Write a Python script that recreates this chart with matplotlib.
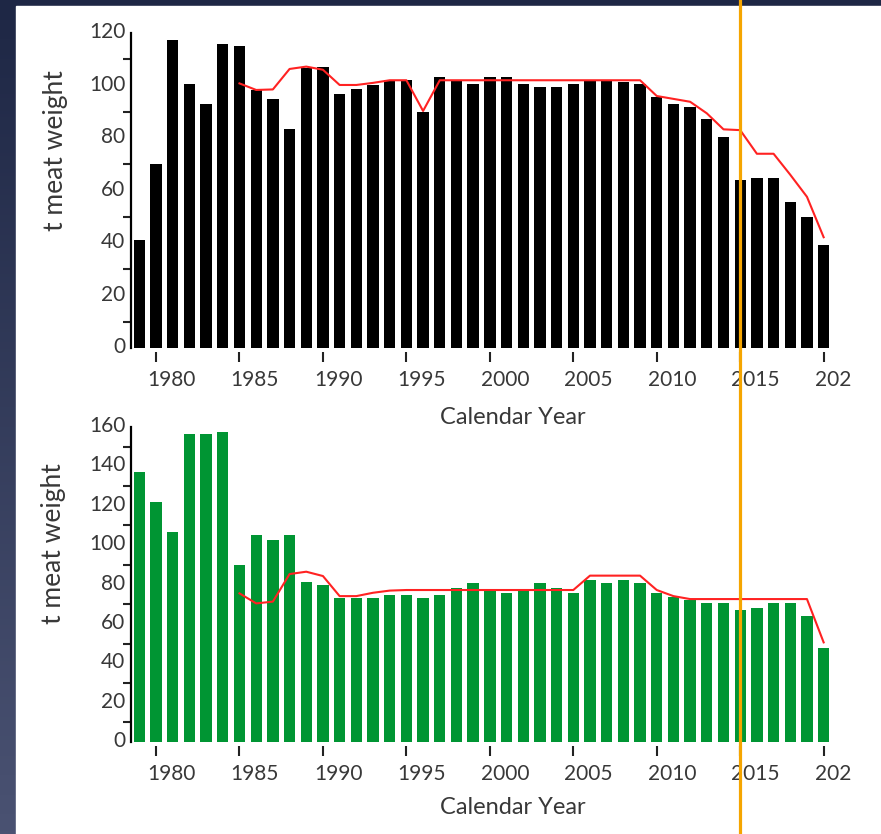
import numpy as np
import matplotlib
matplotlib.use("Agg")
import matplotlib.pyplot as plt
from matplotlib import transforms
from matplotlib.lines import Line2D
from matplotlib.patches import Rectangle

plt.rcParams["font.family"] = ["Lato", "DejaVu Sans"]

# 年份与两组渔获量 (t meat weight)
years = np.arange(1979, 2021)

catch_top = [41, 70, 117.5, 100.5, 93, 116, 115, 98.3, 95, 83.3,
             106.5, 107, 96.6, 98.7, 100.2, 102, 102, 90, 103.4, 102,
             100.6, 103.4, 103.4, 100.6, 99.6, 99.6, 100.6, 102, 102, 101.4,
             100.6, 95.7, 93, 92, 87.2, 80.5, 64, 64.9, 64.9, 55.5,
             49.8, 39.2]

catch_bottom = [137.3, 121.7, 106.5, 156.4, 156.4, 157.6, 89.9, 105.1, 102.6, 105.1,
                81.1, 79.7, 73.3, 73.3, 73.3, 74.7, 74.7, 73.3, 74.7, 78.1,
                80.9, 77.2, 75.8, 77.2, 80.9, 78.1, 75.8, 82.3, 80.9, 82.3,
                80.9, 75.8, 73.8, 72.1, 70.8, 70.8, 67, 68.2, 70.8, 70.8,
                64.2, 47.9]

# 红线 (1985 起)
line_years = np.arange(1985, 2021)
limit_top = [100.8, 98.3, 98.5, 106.3, 107.2, 106, 100.2, 100.2, 101, 102,
             102, 90.3, 102, 102, 102, 102, 102, 102, 102, 102,
             102, 102, 102, 102, 102, 96, 94.9, 93.8, 89.4, 83.3,
             83, 74, 74, 66, 57.6, 42.2]
limit_bottom = [75.5, 70.4, 71.3, 85.3, 86.5, 84.3, 74.1, 74.1, 75.8, 76.9,
                77.2, 77.2, 77.2, 77.2, 77.2, 77.2, 77.2, 77.2, 77.2, 77.2,
                77.2, 84.5, 84.5, 84.5, 84.5, 77.2, 74.1, 72.6, 72.6, 72.6,
                72.6, 72.6, 72.6, 72.6, 72.6, 50.6]

W, H = 881, 834
fig = plt.figure(figsize=(W / 100, H / 100), dpi=100)

# 深色渐变背景 + 白色面板
bg = fig.add_axes([0, 0, 1, 1], zorder=-10)
grad = np.linspace(0, 1, 256)[:, None]
c_top = np.array([0x1e, 0x27, 0x45]) / 255
c_bot = np.array([0x4a, 0x52, 0x72]) / 255
img = c_top + grad[..., None] * (c_bot - c_top)
bg.imshow(img, aspect="auto", extent=[0, 1, 0, 1], origin="upper")
bg.add_patch(Rectangle((16 / W, 0), 1 - 16 / W, 1 - 6 / H, color="white"))
bg.set_xlim(0, 1)
bg.set_ylim(0, 1)
bg.axis("off")

txt = "#383838"


def draw_panel(rect, values, limit, color, ymax):
    ax = fig.add_axes(rect)
    ax.bar(years, values, width=0.68, color=color, zorder=2)
    ax.plot(line_years, limit, color="#ff2222", lw=1.5, zorder=3)
    ax.set_xlim(1978.5, 2020.8)
    ax.set_ylim(0, ymax)
    for s in ["top", "right"]:
        ax.spines[s].set_visible(False)
    ax.spines["left"].set_linewidth(1.6)
    ax.spines["bottom"].set_position(("outward", 3))
    ax.spines["bottom"].set_visible(False)

    ax.set_xticks(np.arange(1980, 2021, 5))
    ax.set_xticklabels([str(y) for y in range(1980, 2020, 5)] + ["202"])
    ax.tick_params(axis="x", length=7, width=1.5, color="#222222",
                   labelsize=15, labelcolor=txt, pad=6)
    shift = transforms.ScaledTranslation(-9 / 100, 0, fig.dpi_scale_trans)
    for lab in ax.get_xticklabels():
        lab.set_ha("left")
        lab.set_transform(lab.get_transform() + shift)

    ax.set_yticks(np.arange(0, ymax + 1, 20))
    ax.set_yticks(np.arange(10, ymax, 20), minor=True)
    ax.tick_params(axis="y", which="major", length=0, pad=4,
                   labelsize=15, labelcolor=txt)
    ax.tick_params(axis="y", which="minor", length=6, width=1.5, color="#222222")
    up = transforms.ScaledTranslation(0, 3 / 100, fig.dpi_scale_trans)
    for lab in ax.get_yticklabels():
        lab.set_transform(lab.get_transform() + up)
    return ax


ax1 = draw_panel([131 / W, 1 - 348 / H, 706 / W, 315 / H],
                 catch_top, limit_top, "black", 120)
ax2 = draw_panel([131 / W, 1 - 742 / H, 706 / W, 315 / H],
                 catch_bottom, limit_bottom, "#009533", 160)

# 坐标轴标题
fig.text(56 / W, 1 - 151 / H, "t meat weight", rotation=90, ha="center",
         va="center", fontsize=19, color=txt)
fig.text(53 / W, 1 - 544 / H, "t meat weight", rotation=90, ha="center",
         va="center", fontsize=19, color=txt)
fig.text(513 / W, 1 - 418 / H, "Calendar Year", ha="center", va="center",
         fontsize=17, color=txt)
fig.text(513 / W, 1 - 808 / H, "Calendar Year", ha="center", va="center",
         fontsize=17, color=txt)

# 2015 年竖线, 贯穿整幅图
tr = transforms.blended_transform_factory(ax1.transData, fig.transFigure)
fig.add_artist(Line2D([2015, 2015], [0, 1], transform=tr,
                      color="#f5a500", lw=2.3, zorder=20))

fig.savefig("out.png", dpi=100)
